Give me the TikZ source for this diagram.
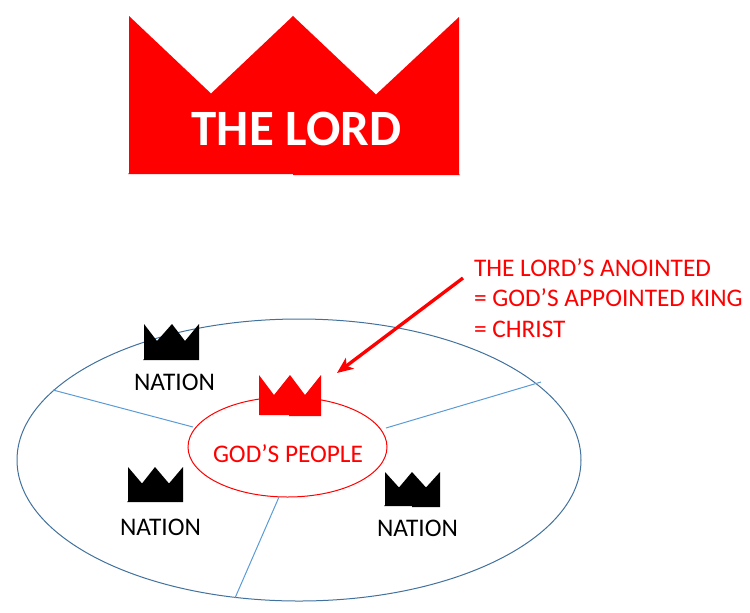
\documentclass[tikz,border=0pt]{standalone}
\usepackage{fontspec}
\setmainfont{Carlito}
\usetikzlibrary{shapes.geometric,arrows.meta}
\definecolor{ringblue}{HTML}{41719C}
\definecolor{spokeblue}{HTML}{5B9BD5}
\definecolor{kingred}{HTML}{FF0000}
\tikzset{
  crownred/.style={fill=kingred,draw=none},
  crownblack/.style={fill=black,draw=none},
  label text/.style={inner sep=0pt,outer sep=0pt,anchor=base west,font=\fontsize{19pt}{23pt}\selectfont},
  spoke/.style={draw=spokeblue,line width=0.75pt},
  ring/.style={shape=ellipse,inner sep=0pt,outer sep=0pt,line width=0.75pt}
}
\begin{document}
\begin{tikzpicture}[x=0.75pt,y=-0.75pt]
\useasboundingbox (0,0) rectangle (750,612);

% Outer circle of the nations and inner circle of God's people
\node[ring,draw=ringblue,minimum width=423pt,minimum height=211.5pt] (world) at (299,460) {};
\node[ring,draw=kingred,minimum width=149.25pt,minimum height=75pt] (people) at (287.5,447) {};

% Dividing lines between the nations
\coordinate (s1a) at (53,390);   \coordinate (s1b) at (193,427);
\coordinate (s2a) at (541,382);  \coordinate (s2b) at (386,428);
\coordinate (s3a) at (235,598);  \coordinate (s3b) at (279,497);
\draw[spoke] (s1a) -- (s1b);
\draw[spoke] (s2a) -- (s2b);
\draw[spoke] (s3a) -- (s3b);

% The great crown
\fill[crownred] (129,16) -- (211,93.5) -- (293,16) -- (376,94.5) -- (459,17)
  -- (459,174) -- (460,175) -- (293,175) -- (293,174) -- (128,174) -- (129,173) -- cycle;
\node[inner sep=0pt,outer sep=0pt,text=white,font=\bfseries\fontsize{38.2pt}{42pt}\selectfont] (lord) at (296.5,129) {THE LORD};

% Small crowns of the nations
\fill[crownblack] (144,324) -- (157,341) -- (172,324) -- (185,341) -- (199,324)
  -- (199,360) -- (143,360) -- (144,359) -- cycle;
\fill[crownblack] (128,467) -- (142,483.5) -- (155,467) -- (169,483.5) -- (183,467)
  -- (183,502) -- (127,502) -- (128,501) -- cycle;
\fill[crownblack] (385,472) -- (399,487.5) -- (412,472) -- (426,487.5) -- (440,472)
  -- (440,507) -- (412,507) -- (412,506) -- (384,506) -- (385,505) -- cycle;

% The anointed king's crown
\fill[crownred] (259,375) -- (274,395) -- (290,375) -- (305,395) -- (321,375)
  -- (321,416) -- (289,416) -- (289,415) -- (259,415) -- cycle;

% Labels
\node[label text] (n1) at (134,390) {NATION};
\node[label text] (n2) at (120,535) {NATION};
\node[label text] (n3) at (377,536) {NATION};
\node[label text,text=kingred] (gp) at (213,462) {GOD’S PEOPLE};
\node[label text,text=kingred] (a1) at (474,276) {THE LORD’S ANOINTED};
\node[label text,text=kingred] (a2) at (474,306) {= GOD’S APPOINTED KING};
\node[label text,text=kingred] (a3) at (474,337) {= CHRIST};

% Pointer to the anointed king
\coordinate (ptrstart) at (463,278);
\coordinate (ptrend) at (337,373);
\draw[kingred,line width=2.5pt,-{Stealth[length=12pt,width=10pt,inset=3pt]}] (ptrstart) -- (ptrend);
\end{tikzpicture}
\end{document}
